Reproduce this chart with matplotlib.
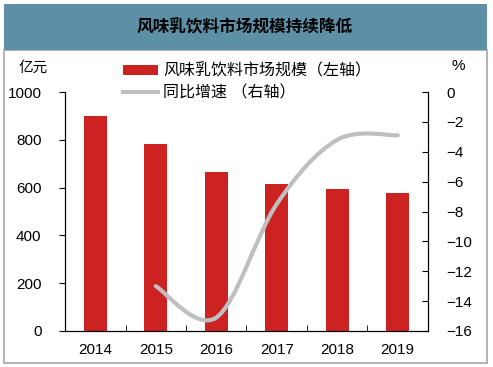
import numpy as np
import matplotlib.pyplot as plt
from matplotlib.path import Path
from matplotlib.patches import PathPatch, Rectangle
from matplotlib.lines import Line2D

plt.rcParams['font.family'] = ['Liberation Sans', 'Noto Sans CJK SC']

years = ['2014', '2015', '2016', '2017', '2018', '2019']
market_size = [900, 783, 665, 615, 596, 578]
growth_years = ['2015', '2016', '2017', '2018', '2019']
growth = [-13.0, -15.1, -7.5, -3.2, -2.9]

bar_color = '#cc2222'
line_color = '#bfbfbf'


def smooth_path(xs, ys):
    # excel style smoothed line: cubic bezier through every point
    pts = np.column_stack([xs, ys]).astype(float)
    n = len(pts)
    verts = [pts[0]]
    codes = [Path.MOVETO]
    for i in range(n - 1):
        p0 = pts[max(i - 1, 0)]
        p1 = pts[i]
        p2 = pts[i + 1]
        p3 = pts[min(i + 2, n - 1)]
        verts += [p1 + (p2 - p0) / 6, p2 - (p3 - p1) / 6, p2]
        codes += [Path.CURVE4] * 3
    return Path(verts, codes)


fig = plt.figure(figsize=(4.93, 3.67), dpi=100)

# title banner and frame
fig.patches.append(Rectangle((4 / 493, 4 / 367), 483 / 493, 313 / 367, transform=fig.transFigure,
                             facecolor='white', edgecolor='#a6a6a6', lw=1.2, zorder=-2))
fig.patches.append(Rectangle((4 / 493, 317 / 367), 483 / 493, 46 / 367, transform=fig.transFigure,
                             facecolor='#5d90a6', edgecolor='none', zorder=-1))
fig.text(0.497, 1 - 27 / 367, '风味乳饮料市场规模持续降低', ha='center', va='center',
         fontsize=12, fontweight='bold', family=['Noto Sans CJK SC'])

ax = fig.add_axes([65 / 493, 36 / 367, 363 / 493, 239 / 367])
ax.patch.set_alpha(0)
x = np.arange(len(years))
ax.bar(x, market_size, width=0.38, color=bar_color, zorder=2)
ax.set_xlim(-0.5, len(years) - 0.5)
ax.set_ylim(0, 1000)
ax.set_yticks(range(0, 1001, 200))
ax.set_xticks(x)
ax.set_xticklabels(years)
ax.set_xticks(np.arange(-0.5, len(years), 1), minor=True)
ax.tick_params(axis='x', which='major', length=0, pad=9, labelsize=11)
ax.tick_params(axis='x', which='minor', direction='in', length=4)
ax.tick_params(axis='y', direction='out', length=4, pad=13, labelsize=11)
ax.spines['top'].set_visible(False)

ax2 = ax.twinx()
gx = [years.index(y) for y in growth_years]
ax2.add_patch(PathPatch(smooth_path(gx, growth), facecolor='none', edgecolor=line_color,
                        lw=3, capstyle='round', zorder=3))
ax2.set_ylim(-16, 0)
ax2.set_yticks(range(-16, 1, 2))
ax2.tick_params(axis='y', direction='in', length=4, pad=13, labelsize=11)
ax2.spines['top'].set_visible(False)

fig.text(33 / 493, 1 - 68 / 367, '亿元', ha='center', va='center', fontsize=10.5)
fig.text(458 / 493, 1 - 66 / 367, '%', ha='center', va='center', fontsize=11)

handles = [Rectangle((0, 0), 1, 1, facecolor=bar_color),
           Line2D([], [], color=line_color, lw=3)]
labels = ['风味乳饮料市场规模（左轴）', '同比增速 （右轴）']
fig.legend(handles, labels, loc='upper left', bbox_to_anchor=(123 / 493, 1 - 63 / 367),
           frameon=False, fontsize=11.5, handlelength=2.2, handleheight=0.55,
           handletextpad=0.3, labelspacing=0.4, borderaxespad=0, borderpad=0)

fig.savefig('out.png', dpi=100)
